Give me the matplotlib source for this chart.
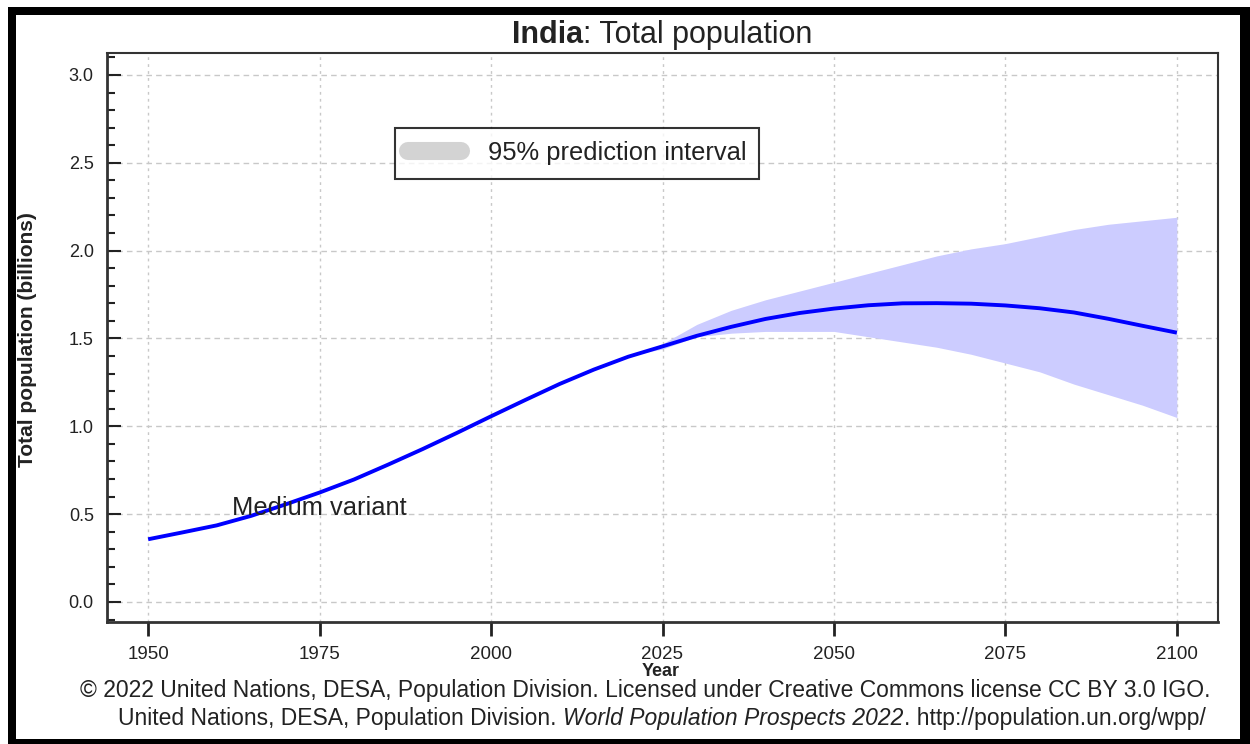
import matplotlib
matplotlib.use('Agg')
import matplotlib.pyplot as plt
import numpy as np
from matplotlib.lines import Line2D
from matplotlib.patches import Rectangle
from matplotlib.ticker import MultipleLocator

# ---------------- data ----------------
years = [1950, 1955, 1960, 1965, 1970, 1975, 1980, 1985, 1990, 1995, 2000,
         2005, 2010, 2015, 2020, 2025, 2030, 2035, 2040, 2045, 2050, 2055,
         2060, 2065, 2070, 2075, 2080, 2085, 2090, 2095, 2100]
median = [0.357, 0.396, 0.436, 0.490, 0.555, 0.623, 0.697, 0.782, 0.870, 0.962,
          1.057, 1.150, 1.241, 1.323, 1.396, 1.455, 1.515, 1.566, 1.611, 1.645,
          1.670, 1.689, 1.700, 1.701, 1.698, 1.688, 1.672, 1.648, 1.612, 1.572,
          1.533]

pi_years = [2022, 2025, 2030, 2035, 2040, 2045, 2050, 2055, 2060, 2065, 2070,
            2075, 2080, 2085, 2090, 2095, 2100]
pi_upper = [1.417, 1.47, 1.58, 1.66, 1.72, 1.77, 1.82, 1.87, 1.92, 1.97, 2.01,
            2.04, 2.08, 2.12, 2.15, 2.17, 2.19]
pi_lower = [1.417, 1.44, 1.51, 1.53, 1.54, 1.54, 1.54, 1.51, 1.48, 1.45, 1.41,
            1.36, 1.31, 1.24, 1.18, 1.12, 1.05]

x_ticks = [1950, 1975, 2000, 2025, 2050, 2075, 2100]
y_ticks = [0.0, 0.5, 1.0, 1.5, 2.0, 2.5, 3.0]

title_bold = "India"
title_rest = ": Total population"
x_label = "Year"
y_label = "Total population (billions)"
legend_label = "95% prediction interval"
series_label = "Medium variant"
footer1 = "© 2022 United Nations, DESA, Population Division. Licensed under Creative Commons license CC BY 3.0 IGO."
footer2 = [("United Nations, DESA, Population Division. ", "normal"),
           ("World Population Prospects 2022", "italic"),
           (". http://population.un.org/wpp/", "normal")]

# ---------------- figure ----------------
plt.rcParams['font.family'] = ['Liberation Sans', 'DejaVu Sans']
W, H = 1250, 744
fig = plt.figure(figsize=(W / 100, H / 100), dpi=100)
fig.patch.set_facecolor('white')

ax = fig.add_axes([107 / W, 1 - 622 / H, (1218 - 107) / W, (622 - 53) / H])

ax.fill_between(pi_years, pi_lower, pi_upper, color='#ccccff', lw=0, zorder=1)
ax.plot(years, median, color='#0000ff', lw=2.8, zorder=3, solid_capstyle='butt')

ax.set_xlim(1944, 2106)
ax.set_ylim(-0.114, 3.125)
ax.set_xticks(x_ticks)
ax.set_xticklabels([str(v) for v in x_ticks])
ax.set_yticks(y_ticks)
ax.set_yticklabels([f"{v:.1f}" for v in y_ticks])
ax.yaxis.set_minor_locator(MultipleLocator(0.1))

ax.tick_params(axis='y', which='major', direction='in', length=10, width=1.5,
               labelsize=13, pad=9.5, colors='#222222')
ax.tick_params(axis='y', which='minor', direction='in', length=6, width=1.5,
               color='#222222')
ax.tick_params(axis='x', which='major', direction='out', length=10, width=2,
               labelsize=13.5, pad=7.5, colors='#222222')

ax.xaxis.grid(True, color='#c8c8c8', lw=1, ls=(0, (2, 3)))
ax.yaxis.grid(True, color='#c8c8c8', lw=1, ls=(0, (4, 3)))
ax.set_axisbelow(True)

for side, sp in ax.spines.items():
    sp.set_color('#333333')
    sp.set_linewidth(2 if side in ('left', 'bottom') else 1.5)

ax.text(1962.2, 0.535, series_label, fontsize=18.4, color='#222222',
        ha='left', va='center', zorder=4)

handle = Line2D([], [], color='#d3d3d3', lw=13, solid_capstyle='round')
leg = ax.legend([handle], [legend_label], loc='upper left',
                bbox_to_anchor=(395 / W, 1 - 128 / H), bbox_transform=fig.transFigure,
                borderaxespad=0, frameon=True, fancybox=False, edgecolor='black',
                fontsize=18.4, handlelength=2.05, handletextpad=1.05, borderpad=0.52)
leg.get_frame().set_linewidth(1.5)
for t in leg.get_texts():
    t.set_color('#222222')

fig.text(28 / W, 1 - 340 / H, y_label, rotation=90, fontsize=15, fontweight='bold',
         ha='center', va='center', color='#222222')
fig.text(661 / W, 1 - 672 / H, x_label, fontsize=13, fontweight='bold',
         ha='center', va='center', color='#222222')

# ---- mixed-style text helper ----
renderer = fig.canvas.get_renderer()


def mixed_text(pieces, xc, yc, size):
    arts = []
    for s, style in pieces:
        kw = dict(fontsize=size, va='center', ha='left', color='#222222')
        if style == 'bold':
            kw['fontweight'] = 'bold'
        elif style == 'italic':
            kw['fontstyle'] = 'italic'
        arts.append(fig.text(0, yc, s, **kw))
    widths = [a.get_window_extent(renderer).width for a in arts]
    x = xc - sum(widths) / 2
    for a, w in zip(arts, widths):
        a.set_x(x / W)
        x += w


mixed_text([(title_bold, 'bold'), (title_rest, 'normal')], 662.5, 1 - 35 / H, 22)
mixed_text([(footer1, 'normal')], 645, 1 - 691 / H, 16.5)
mixed_text(footer2, 662, 1 - 719 / H, 16.5)

# ---- outer black frame ----
for (x0, y0, x1, y1) in [(8, 7, 1250, 15), (8, 7, 16, 744), (1240, 7, 1250, 744),
                         (8, 739, 1250, 744)]:
    fig.add_artist(Rectangle((x0 / W, 1 - y1 / H), (x1 - x0) / W, (y1 - y0) / H,
                             transform=fig.transFigure, color='black', lw=0))

fig.savefig('out.png', dpi=100)
